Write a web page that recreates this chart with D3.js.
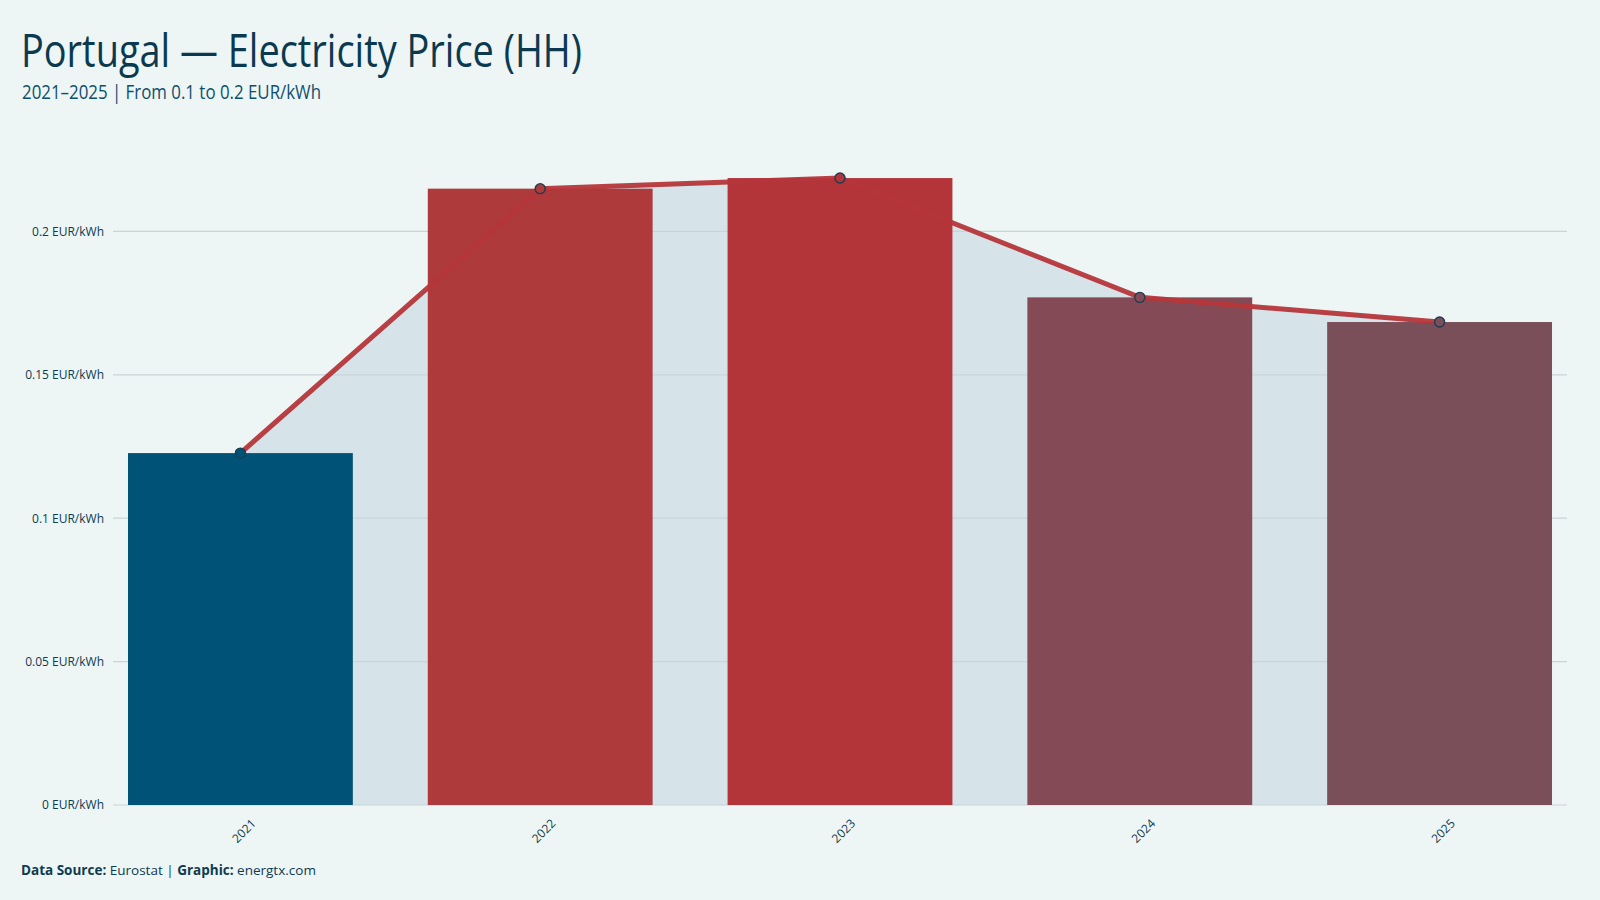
<!DOCTYPE html>
<html>
<head>
<meta charset="utf-8">
<script src="https://cdn.jsdelivr.net/npm/d3@7"></script>
<style>
  body { margin: 0; background: #eef5f5; }
  svg { display: block; }
</style>
</head>
<body>
<script>
// data
const years = ["2021", "2022", "2023", "2024", "2025"];
const prices = [0.1227, 0.2149, 0.2186, 0.1770, 0.1684];
const barColors = ["#005377", "#ae3a3c", "#b3353a", "#844b56", "#7a4f5a"];
const yTicks = [0, 0.05, 0.1, 0.15, 0.2];

const data = years.map((y, i) => ({ year: y, price: prices[i], color: barColors[i] }));

const W = 1600, H = 900;
const svg = d3.select("body").append("svg")
  .attr("width", W)
  .attr("height", H);

svg.append("rect").attr("width", W).attr("height", H).attr("fill", "#eef5f5");

// scales
const x = d3.scaleBand()
  .domain(years)
  .range([113, 1567])
  .paddingInner(0.25)
  .paddingOuter(0.05);

const y = d3.scaleLinear()
  .domain([0, 0.2])
  .range([805, 231.4]);

const cx = d => x(d.year) + x.bandwidth() / 2;

// area under the line
const area = d3.area()
  .x(cx)
  .y0(y(0))
  .y1(d => y(d.price));

svg.append("path")
  .datum(data)
  .attr("d", area)
  .attr("fill", "#d6e3e8");

// grid
svg.append("g")
  .selectAll("line")
  .data(yTicks)
  .enter()
  .append("line")
  .attr("x1", 113)
  .attr("x2", 1567)
  .attr("y1", d => y(d))
  .attr("y2", d => y(d))
  .attr("stroke", "#c7d5db")
  .attr("stroke-width", 1.2);

// y axis labels
const yAxis = svg.append("g")
  .attr("transform", "translate(113,0)")
  .call(d3.axisLeft(y).tickValues(yTicks).tickSize(0).tickPadding(9)
    .tickFormat(d => d3.format("~g")(d) + " EUR/kWh"));
yAxis.select(".domain").remove();
yAxis.selectAll("text")
  .attr("font-family", "'Open Sans', sans-serif")
  .attr("font-size", 12)
  .attr("fill", "#0d3b52");

// bars
svg.selectAll("rect.bar")
  .data(data)
  .enter()
  .append("rect")
  .attr("class", "bar")
  .attr("x", d => x(d.year))
  .attr("y", d => y(d.price))
  .attr("width", x.bandwidth())
  .attr("height", d => y(0) - y(d.price))
  .attr("fill", d => d.color);

// line
const line = d3.line()
  .x(cx)
  .y(d => y(d.price));

svg.append("path")
  .datum(data)
  .attr("d", line)
  .attr("fill", "none")
  .attr("stroke", "#b5363a")
  .attr("stroke-width", 5)
  .attr("opacity", 0.95);

// points
svg.selectAll("circle")
  .data(data)
  .enter()
  .append("circle")
  .attr("cx", cx)
  .attr("cy", d => y(d.price))
  .attr("r", 5)
  .attr("fill", (d, i) => i === 0 ? "#005377" : d.color)
  .attr("stroke", "#1b3d52")
  .attr("stroke-width", 1.4);

// x axis labels
const xAxis = svg.append("g")
  .attr("transform", "translate(0," + (y(0) + 2) + ")")
  .call(d3.axisBottom(x).tickSize(0).tickPadding(6));
xAxis.select(".domain").remove();
xAxis.selectAll("text")
  .attr("font-family", "'Open Sans', sans-serif")
  .attr("font-size", 12)
  .attr("fill", "#0d3b52")
  .attr("text-anchor", "end")
  .attr("dy", "0.35em")
  .attr("transform", "translate(9,10) rotate(-45)");

// titles (condensed look via textLength)
svg.append("text")
  .attr("x", 21)
  .attr("y", 67)
  .attr("font-family", "'Open Sans', sans-serif")
  .attr("font-size", 45)
  .attr("textLength", 561)
  .attr("lengthAdjust", "spacingAndGlyphs")
  .attr("fill", "#0b3a50")
  .text("Portugal — Electricity Price (HH)");

svg.append("text")
  .attr("x", 22)
  .attr("y", 99)
  .attr("font-family", "'Open Sans', sans-serif")
  .attr("font-size", 20)
  .attr("textLength", 299)
  .attr("lengthAdjust", "spacingAndGlyphs")
  .attr("fill", "#0f4f6e")
  .text("2021–2025 | From 0.1 to 0.2 EUR/kWh");

// footer
const foot = svg.append("text")
  .attr("x", 21)
  .attr("y", 875)
  .attr("font-family", "'Open Sans', sans-serif")
  .attr("font-size", 13.5)
  .attr("fill", "#0d3b52");
foot.append("tspan").attr("font-weight", "bold").text("Data Source: ");
foot.append("tspan").text("Eurostat | ");
foot.append("tspan").attr("font-weight", "bold").text("Graphic: ");
foot.append("tspan").text("energtx.com");
</script>
</body>
</html>
